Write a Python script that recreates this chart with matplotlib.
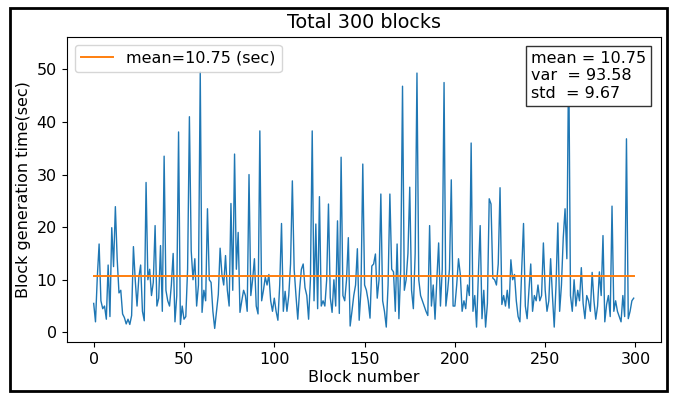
import matplotlib
matplotlib.use("Agg")
import matplotlib.pyplot as plt
from matplotlib.offsetbox import AnchoredText
from matplotlib.patches import Rectangle

block_times = [
    5.5, 2.0, 10.5, 16.8, 6.0, 4.5, 5.0, 2.5, 12.8, 3.0,
    19.9, 12.5, 23.9, 14.0, 7.5, 8.0, 3.5, 2.8, 1.6, 2.5,
    1.5, 3.2, 16.3, 10.0, 5.0, 10.5, 12.8, 4.0, 2.2, 28.5,
    10.0, 12.0, 7.0, 9.5, 20.3, 5.0, 6.5, 16.5, 4.0, 33.5,
    8.0, 6.0, 5.0, 9.0, 15.0, 2.0, 7.0, 38.1, 1.5, 5.0,
    2.5, 3.0, 12.0, 41.0, 15.5, 10.0, 14.0, 5.0, 9.0, 49.5,
    3.8, 8.0, 6.0, 23.5, 10.0, 9.5, 4.0, 0.75, 4.0, 7.2,
    16.0, 11.0, 9.0, 14.6, 8.0, 5.0, 24.5, 8.0, 33.9, 12.0,
    19.0, 3.8, 6.0, 8.0, 7.0, 4.0, 30.0, 7.0, 10.0, 14.0,
    5.0, 3.5, 38.3, 6.0, 8.0, 10.5, 9.0, 11.0, 6.0, 4.0,
    6.5, 4.0, 2.3, 9.0, 20.7, 4.0, 7.8, 4.0, 7.0, 13.0,
    28.8, 12.0, 7.0, 2.5, 8.0, 12.0, 13.0, 8.5, 7.0, 2.5,
    10.0, 38.3, 6.0, 20.6, 4.5, 25.8, 5.0, 6.0, 5.0, 10.0,
    24.4, 6.6, 3.8, 10.0, 5.0, 21.2, 3.6, 33.3, 7.0, 6.0,
    10.0, 18.0, 1.2, 4.0, 7.0, 9.0, 15.9, 2.3, 8.0, 32.0,
    9.0, 8.0, 6.0, 2.7, 12.6, 13.0, 14.9, 6.5, 10.0, 26.3,
    6.0, 4.0, 1.0, 9.0, 26.3, 12.0, 11.5, 4.0, 16.8, 2.6,
    12.0, 46.8, 8.0, 10.0, 15.0, 27.6, 8.0, 4.5, 15.0, 49.3,
    10.0, 7.0, 6.0, 5.0, 4.0, 3.2, 20.3, 5.0, 9.0, 2.5,
    10.0, 17.0, 5.0, 12.0, 47.5, 5.0, 8.0, 12.0, 29.0, 5.0,
    5.0, 9.0, 14.0, 11.0, 4.0, 6.0, 4.5, 9.0, 7.0, 36.0,
    4.0, 7.0, 1.0, 11.0, 20.3, 2.6, 8.0, 1.0, 5.5, 25.4,
    24.4, 10.3, 10.0, 9.0, 13.0, 27.5, 5.3, 7.0, 5.0, 8.0,
    4.6, 13.8, 10.0, 11.0, 6.0, 3.0, 2.0, 12.0, 20.7, 5.0,
    2.6, 8.0, 13.0, 4.0, 7.0, 6.0, 9.0, 6.0, 7.0, 17.0,
    8.0, 4.0, 6.0, 14.0, 7.0, 1.0, 9.0, 20.8, 4.0, 9.0,
    18.0, 23.5, 14.0, 53.6, 7.0, 4.0, 10.0, 5.0, 8.0, 6.0,
    12.3, 5.5, 2.6, 7.0, 6.0, 4.0, 11.4, 6.0, 2.5, 5.0,
    11.5, 7.0, 18.4, 2.0, 5.3, 7.0, 3.0, 24.0, 4.0, 6.0,
    4.0, 3.0, 2.0, 7.0, 3.0, 36.8, 2.6, 4.0, 6.0, 6.5,
]
block_numbers = list(range(len(block_times)))

mean_value = 10.75
var_value = 93.58
std_value = 9.67

title_text = "Total 300 blocks"
x_label = "Block number"
y_label = "Block generation time(sec)"

plt.rcParams['font.family'] = ['DejaVu Sans']
fs = 11.5

fig = plt.figure(figsize=(6.75, 3.93), dpi=100)
ax = fig.add_axes([0.0988, 0.129, 0.880, 0.778])

ax.plot(block_numbers, block_times, color='tab:blue', linewidth=1.0)
ax.plot([block_numbers[0], block_numbers[-1]], [mean_value, mean_value],
        color='tab:orange', linewidth=1.4,
        label=f"mean={mean_value:.2f} (sec)")

ax.set_title(title_text, fontsize=13.8)
ax.set_xlabel(x_label, fontsize=fs, labelpad=2)
ax.set_ylabel(y_label, fontsize=fs, labelpad=4)
ax.tick_params(labelsize=fs)
ax.set_xticks([0, 50, 100, 150, 200, 250, 300])
ax.set_yticks([0, 10, 20, 30, 40, 50])

ax.legend(loc='upper left', fontsize=fs)

stats = (f"mean = {mean_value:.2f}\n"
         f"var  = {var_value:.2f}\n"
         f"std  = {std_value:.2f}")
at = AnchoredText(stats, loc='upper right', prop=dict(size=fs),
                  frameon=True, pad=0.3, borderpad=0.6)
at.patch.set_boxstyle('square', pad=0)
at.patch.set_edgecolor('#333333')
at.zorder = 5
ax.add_artist(at)

border = Rectangle((0.0148, 0.005), 0.973, 0.975, transform=fig.transFigure,
                   fill=False, edgecolor='black', linewidth=2.0)
fig.patches.append(border)

fig.savefig("out.png", dpi=100)
